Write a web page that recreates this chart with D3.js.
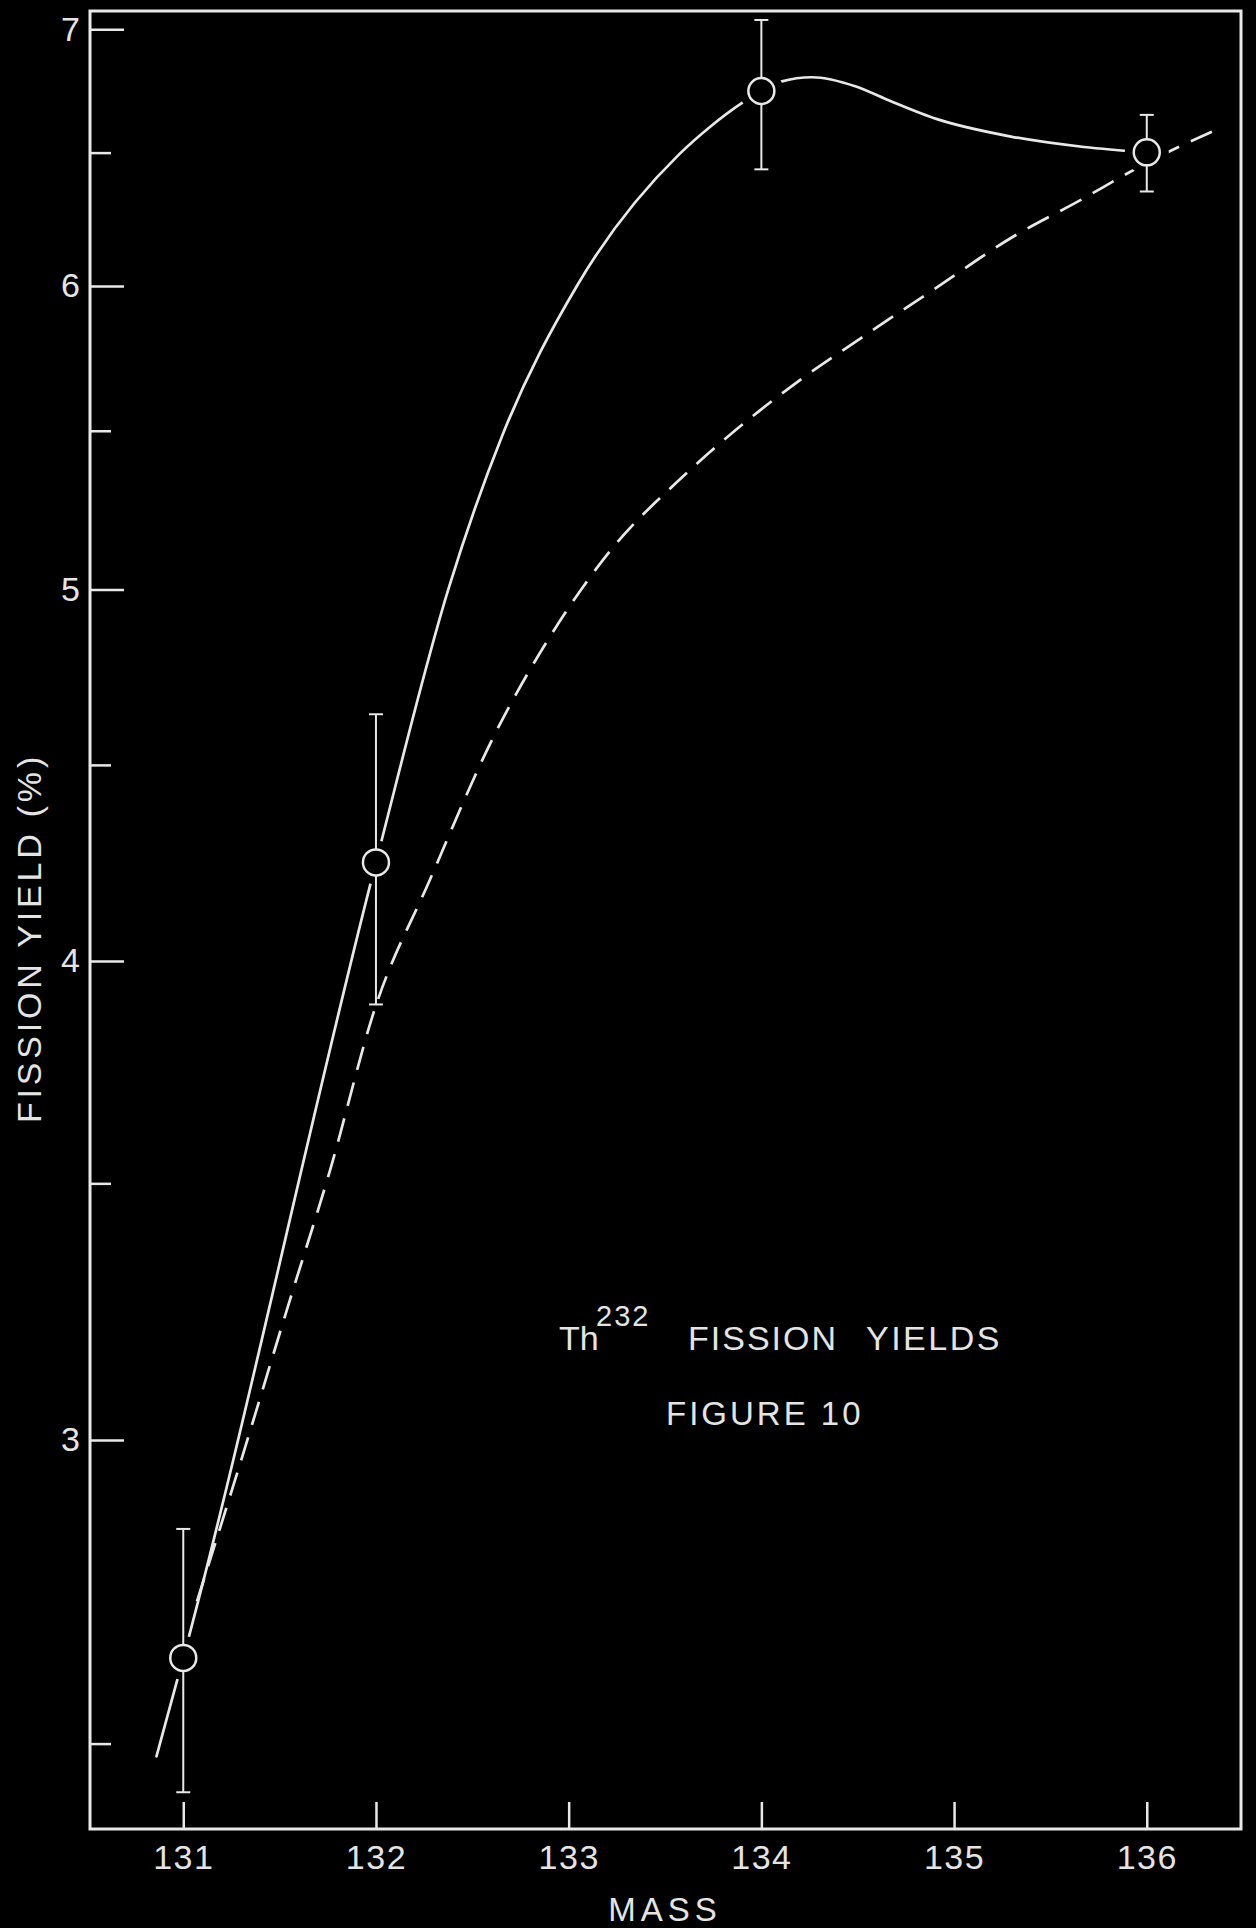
<!DOCTYPE html>
<html>
<head>
<meta charset="utf-8">
<script src="https://cdn.jsdelivr.net/npm/d3@7"></script>
<style>
  html, body { margin: 0; padding: 0; background: #000; }
  svg { display: block; }
  text { font-family: "Liberation Sans", Arial, sans-serif; fill: #e4e4e4; }
</style>
</head>
<body>
<div id="chart"></div>
<script>
// Mass-chain axis ticks
const massTicks = [131, 132, 133, 134, 135, 136];
// Fission-yield (%) ticks on the logarithmic axis
const yieldTicks = [3, 4, 5, 6, 7];
const yieldMinorTicks = [2.5, 3.5, 4.5, 5.5, 6.5];

// Measured yields with their error limits
const pointMass  = [131, 132, 134, 136];
const pointYield = [2.632, 4.244, 6.745, 6.501];
const errLow     = [2.428, 3.897, 6.435, 6.350];
const errHigh    = [2.844, 4.639, 7.039, 6.649];

// Solid curve drawn through the measured yields
const solidMass  = [130.861, 131.0, 132.0, 132.379, 132.654, 133.048, 133.577, 133.733,
                    133.898, 134.0, 134.102, 134.263, 134.491, 134.647, 134.912, 135.295, 135.674, 136.0];
const solidYield = [2.481, 2.632, 4.244, 5.007, 5.482, 6.006, 6.496, 6.601,
                    6.696, 6.745, 6.783, 6.801, 6.763, 6.712, 6.632, 6.563, 6.522, 6.501];

// Dashed (smooth) yield curve
const dashMass  = [131.071, 131.268, 131.554, 131.762, 131.995, 132.280, 132.602, 132.924, 133.240,
                   133.562, 133.879, 134.200, 134.517, 134.911, 135.295, 135.658, 135.933, 136.084, 136.338];
const dashYield = [2.723, 2.928, 3.264, 3.528, 3.888, 4.200, 4.568, 4.879, 5.135,
                   5.333, 5.509, 5.670, 5.815, 5.995, 6.175, 6.318, 6.433, 6.492, 6.582];

const W = 1256, H = 1928;
const plotLeft = 90, plotRight = 1241, plotTop = 11, plotBottom = 1829;
const ink = "#e8e8e8";

const svg = d3.select("#chart").append("svg")
  .attr("width", W).attr("height", H)
  .style("background", "#000");

const x = d3.scaleLinear().domain([130.516, 136.489]).range([plotLeft, plotRight]);
const y = d3.scaleLog().domain([2.375, 7.077]).range([plotBottom, plotTop]);

// Frame
svg.append("rect")
  .attr("x", plotLeft).attr("y", plotTop)
  .attr("width", plotRight - plotLeft).attr("height", plotBottom - plotTop)
  .attr("fill", "none").attr("stroke", ink).attr("stroke-width", 3);

// Left axis: major ticks with labels
const yAxis = svg.append("g")
  .attr("transform", `translate(${plotLeft},0)`)
  .call(d3.axisLeft(y).tickValues(yieldTicks).tickFormat(d3.format("d"))
    .tickSize(-34).tickPadding(10));
// Left axis: minor ticks
const yMinor = svg.append("g")
  .attr("transform", `translate(${plotLeft},0)`)
  .call(d3.axisLeft(y).tickValues(yieldMinorTicks).tickFormat("").tickSize(-21));

// Bottom axis
const xAxis = svg.append("g")
  .attr("transform", `translate(0,${plotBottom})`)
  .call(d3.axisBottom(x).tickValues(massTicks).tickFormat(d3.format("d"))
    .tickSize(-27).tickPadding(16));

[yAxis, yMinor, xAxis].forEach(g => {
  g.select(".domain").remove();
  g.selectAll(".tick line").attr("stroke", ink).attr("stroke-width", 2.5);
  g.selectAll(".tick text").attr("fill", ink)
    .style("font-size", "34px").style("font-family", "Liberation Sans, Arial, sans-serif");
});
xAxis.selectAll(".tick text").attr("letter-spacing", 1.5);

// Axis titles
svg.append("text")
  .attr("transform", `translate(29,938) rotate(-90)`)
  .attr("text-anchor", "middle").attr("dominant-baseline", "central")
  .attr("letter-spacing", 3.8)
  .style("font-size", "34px")
  .text("FISSION YIELD (%)");

svg.append("text")
  .attr("x", 665).attr("y", 1921)
  .attr("text-anchor", "middle")
  .attr("letter-spacing", 5)
  .style("font-size", "33px")
  .text("MASS");

// Curves
const line = d3.line()
  .x(d => x(d[0])).y(d => y(d[1]))
  .curve(d3.curveMonotoneX);

const solidData = solidMass.map((m, i) => [m, solidYield[i]]);
const dashData = dashMass.map((m, i) => [m, dashYield[i]]);

svg.append("path").datum(solidData)
  .attr("d", line)
  .attr("fill", "none").attr("stroke", ink).attr("stroke-width", 2.7)
  .attr("stroke-linecap", "round");

svg.append("path").datum(dashData)
  .attr("d", line)
  .attr("fill", "none").attr("stroke", ink).attr("stroke-width", 2.7)
  .attr("stroke-dasharray", "24,13");

// Clear space around each measured point
const pts = pointMass.map((m, i) => ({ m, v: pointYield[i], lo: errLow[i], hi: errHigh[i] }));

svg.append("g").selectAll("circle").data(pts).join("circle")
  .attr("cx", d => x(d.m)).attr("cy", d => y(d.v)).attr("r", 22)
  .attr("fill", "#000");

// Error bars
const eb = svg.append("g").attr("stroke", ink).attr("stroke-width", 2);
eb.selectAll("line.v").data(pts).join("line").attr("class", "v")
  .attr("x1", d => x(d.m)).attr("x2", d => x(d.m))
  .attr("y1", d => y(d.hi)).attr("y2", d => y(d.lo));
eb.selectAll("line.hi").data(pts).join("line").attr("class", "hi")
  .attr("x1", d => x(d.m) - 7).attr("x2", d => x(d.m) + 7)
  .attr("y1", d => y(d.hi)).attr("y2", d => y(d.hi));
eb.selectAll("line.lo").data(pts).join("line").attr("class", "lo")
  .attr("x1", d => x(d.m) - 7).attr("x2", d => x(d.m) + 7)
  .attr("y1", d => y(d.lo)).attr("y2", d => y(d.lo));

// Point markers
svg.append("g").selectAll("circle").data(pts).join("circle")
  .attr("cx", d => x(d.m)).attr("cy", d => y(d.v)).attr("r", 13)
  .attr("fill", "#000").attr("stroke", ink).attr("stroke-width", 2.5);

// Title block
const t1 = svg.append("text").style("font-size", "34px");
t1.append("tspan").attr("x", 559).attr("y", 1350).text("Th");
t1.append("tspan").attr("x", 596).attr("y", 1326).attr("letter-spacing", 2)
  .style("font-size", "29px").text("232");
t1.append("tspan").attr("x", 688).attr("y", 1350).attr("letter-spacing", 2).text("FISSION");
t1.append("tspan").attr("x", 866).attr("y", 1350).attr("letter-spacing", 2.5).text("YIELDS");

svg.append("text")
  .attr("x", 666).attr("y", 1425)
  .attr("letter-spacing", 3)
  .style("font-size", "33px")
  .text("FIGURE 10");
</script>
</body>
</html>
